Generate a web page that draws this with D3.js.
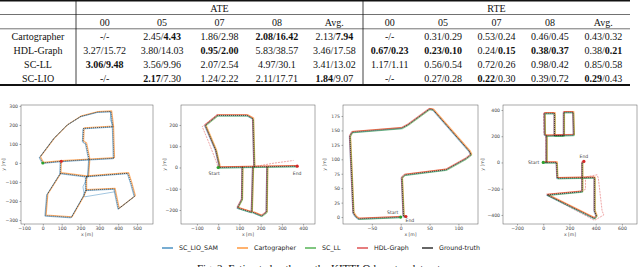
<!DOCTYPE html>
<html>
<head>
<meta charset="utf-8">
<script src="https://cdn.jsdelivr.net/npm/d3@7"></script>
<style>
body { margin: 0; background: #fff; }
svg { display: block; }
</style>
</head>
<body>
<svg id="fig" width="640" height="267"></svg>
<script>
// ---- table data ----
var methods = ["Cartographer", "HDL-Graph", "SC-LL", "SC-LIO"];
var sequences = ["00", "05", "07", "08", "Avg."];
// "**" marks bold parts
var ateValues = [
	["-/-", "2.45/**4.43**", "1.86/2.98", "**2.08/16.42**", "2.13/**7.94**"],
	["3.27/15.72", "3.80/14.03", "**0.95/2.00**", "5.83/38.57", "3.46/17.58"],
	["**3.06/9.48**", "3.56/9.96", "2.07/2.54", "4.97/30.1", "3.41/13.02"],
	["-/-", "**2.17**/7.30", "1.24/2.22", "2.11/17.71", "**1.84**/9.07"]
];
var rteValues = [
	["-/-", "0.31/0.29", "0.53/0.24", "0.46/0.45", "0.43/0.32"],
	["**0.67/0.23**", "**0.23/0.10**", "0.24/**0.15**", "**0.38/0.37**", "0.38/**0.21**"],
	["1.17/1.11", "0.56/0.54", "0.72/0.26", "0.98/0.42", "0.85/0.58"],
	["-/-", "0.27/0.28", "**0.22**/0.30", "0.39/0.72", "**0.29**/0.43"]
];

// ---- trajectory data (metres) ----
var seq00Truth = [
	[[0,0],[98,9],[246,18],[377,25]],
	[[0,0],[-16,30],[22,80],[59,129],[130,200],[202,245],[291,268],[362,271],[371,200],[372,191],[216,182],[213,113],[229,102],[246,18]],
	[[372,191],[377,25]],
	[[95,9],[93,-54],[229,-71],[452,-54],[470,-110],[488,-175],[402,-241],[380,-136],[229,-143]],
	[[246,18],[240,-70],[229,-75],[229,-143],[216,-175],[152,-286],[14,-277],[23,-166],[91,-59],[93,-54]]
];
var seq00LioSamDev = [
	[[240,-70],[213,-125],[222,-178],[380,-152]],
	[[362,271],[358,228],[372,196]]
];
var seq05Truth = [
	[[0,0],[372,6]],
	[[5,0],[5,11],[-11,81],[-61,198],[-3,245],[137,245],[164,230],[170,3]],
	[[114,3],[112,-150],[91,-190],[158,-211],[164,3]],
	[[164,-211],[205,-228],[228,-210],[231,3]]
];
var seq05HdlDev = [
	[[-3,250],[-75,192],[-45,120],[-10,30],[0,2]],
	[[170,4],[260,20],[355,33]]
];
var seq07Truth = [
	[[0,0],[-73,-3],[-78,1],[-82,7],[-88,140],[-84,147],[2,154],[13,160],[50,187],[56,186],[119,114],[122,108],[113,101],[79,82],[7,73],[2,68],[5,1],[9,1]]
];
var seq08Truth = [
	[[0,0],[102,0],[107,-120],[391,-115],[391,-370],[406,-408],[391,-426],[30,-247],[297,-222],[297,0],[310,8]],
	[[25,0],[25,204],[12,210],[10,375],[86,375],[86,204],[157,204],[157,383],[228,383],[233,209],[25,204]]
];
var seq08HdlDev = [
	[[30,-250],[391,-441],[462,-400],[449,-370],[420,-120],[411,-94],[322,-110],[322,-204],[300,-215]],
	[[20,0],[18,200],[5,215],[2,380]]
];
var startPoints = [[0,0],[0,0],[0,0],[0,0]];
var endPoints = [[98,9],[372,6],[9,1],[310,8]];

var seq00XTicks = [-100,0,100,200,300,400,500], seq00YTicks = [-300,-200,-100,0,100,200,300];
var seq05XTicks = [-100,0,100,200,300,400], seq05YTicks = [-200,-100,0,100,200];
var seq07XTicks = [-50,0,50,100], seq07YTicks = [0,25,50,75,100,125,150,175];
var seq08XTicks = [-200,0,200,400,600], seq08YTicks = [-400,-200,0,200,400];

var legendNames = ["SC_LIO_SAM", "Cartographer", "SC_LL", "HDL-Graph", "Ground-truth"];
var caption = "Fig. 2: Estimated paths on the KITTI Odometry dataset.";

// ---- styles ----
var colors = { lioSam: "#1f77b4", carto: "#ff7f0e", scll: "#2ca02c", hdl: "#d62728", truth: "#000" };
var legendColors = [colors.lioSam, colors.carto, colors.scll, colors.hdl, colors.truth];
// small pixel shifts so overlapping estimates stay visible under the truth line
var shifts = { lioSam: [-0.6, 0.5], carto: [0.7, -0.6], scll: [0.5, 0.7], hdl: [-0.5, -0.7] };

var svg = d3.select("#fig");
var serif = "'Liberation Serif', 'Times New Roman', serif";
var sans = "'DejaVu Sans', sans-serif";

// ================= TABLE =================
var tbl = svg.append("g").attr("font-family", serif).attr("font-size", 10).attr("fill", "#111");

var ateX = d3.scaleBand().domain(sequences).range([76, 363]);
var rteX = d3.scaleBand().domain(sequences).range([363, 630]);
var rowY = d3.scaleBand().domain(methods).range([29, 85]);

function richText(sel, str) {
	str.split("**").forEach(function(part, i) {
		if (part) sel.append("tspan").attr("font-weight", i % 2 ? "bold" : null).text(part);
	});
}

// rules
tbl.append("line").attr("x1", 0).attr("x2", 630).attr("y1", 0.8).attr("y2", 0.8).attr("stroke", "#111").attr("stroke-width", 1.6);
tbl.append("line").attr("x1", 0).attr("x2", 630).attr("y1", 14.5).attr("y2", 14.5).attr("stroke", "#111").attr("stroke-width", 0.6);
tbl.append("line").attr("x1", 0).attr("x2", 630).attr("y1", 28.8).attr("y2", 28.8).attr("stroke", "#111").attr("stroke-width", 0.6);
tbl.append("line").attr("x1", 0).attr("x2", 630).attr("y1", 85).attr("y2", 85).attr("stroke", "#111").attr("stroke-width", 1.8);
[76, 363].forEach(function(x) {
	tbl.append("line").attr("x1", x).attr("x2", x).attr("y1", 0).attr("y2", 85).attr("stroke", "#111").attr("stroke-width", 0.8);
});

tbl.append("text").attr("x", (ateX.range()[0] + ateX.range()[1]) / 2).attr("y", 12).attr("text-anchor", "middle").text("ATE");
tbl.append("text").attr("x", (rteX.range()[0] + rteX.range()[1]) / 2).attr("y", 12).attr("text-anchor", "middle").text("RTE");

[ateX, rteX].forEach(function(sc) {
	tbl.selectAll(null).data(sequences).enter().append("text")
		.attr("x", d => sc(d) + sc.bandwidth() / 2)
		.attr("y", 26)
		.attr("text-anchor", "middle")
		.text(d => d);
});

methods.forEach(function(m, i) {
	var y = rowY(m) + rowY.bandwidth() / 2 + 3.5;
	tbl.append("text").attr("x", 38).attr("y", y).attr("text-anchor", "middle").text(m);
	sequences.forEach(function(s, j) {
		richText(tbl.append("text").attr("x", ateX(s) + ateX.bandwidth() / 2).attr("y", y).attr("text-anchor", "middle"), ateValues[i][j]);
		richText(tbl.append("text").attr("x", rteX(s) + rteX.bandwidth() / 2).attr("y", y).attr("text-anchor", "middle"), rteValues[i][j]);
	});
});

// ================= PLOTS =================
var panels = [
	{ truth: seq00Truth, series: ["carto", "lioSam"], dev: [[seq00LioSamDev, "lioSam"]],
	  left: 21, right: 153, xDom: [-116, 585], yDom: [-321, 305], xTicks: seq00XTicks, yTicks: seq00YTicks, ylabX: 5,
	  startLab: null, endLab: null },
	{ truth: seq05Truth, series: ["carto", "lioSam", "scll", "hdl"], dev: [[seq05HdlDev, "hdl"]],
	  left: 181, right: 315, xDom: [-175, 456], yDom: [-266, 294], xTicks: seq05XTicks, yTicks: seq05YTicks, ylabX: 166,
	  startLab: [-4, 8, "middle"], endLab: [0, 9, "middle"] },
	{ truth: seq07Truth, series: ["carto", "lioSam", "scll", "hdl"], dev: [],
	  left: 343, right: 478, xDom: [-100, 134], yDom: [-12, 194], xTicks: seq07XTicks, yTicks: seq07YTicks, ylabX: 326,
	  startLab: [-8, -3, "middle"], endLab: [4, 6, "middle"] },
	{ truth: seq08Truth, series: ["carto", "lioSam", "scll", "hdl"], dev: [[seq08HdlDev, "hdl"]],
	  left: 503, right: 637, xDom: [-307, 715], yDom: [-469, 438], xTicks: seq08XTicks, yTicks: seq08YTicks, ylabX: 484,
	  startLab: [-4, 2, "end"], endLab: [0, -3, "middle"] }
];
var plotTop = 105, plotBottom = 224;

panels.forEach(function(p, k) {
	var g = svg.append("g").attr("font-family", sans);
	var x = d3.scaleLinear().domain(p.xDom).range([p.left, p.right]);
	var y = d3.scaleLinear().domain(p.yDom).range([plotBottom, plotTop]);
	var line = d3.line().x(d => x(d[0])).y(d => y(d[1]));

	var clipId = "clip" + k;
	g.append("clipPath").attr("id", clipId).append("rect")
		.attr("x", p.left).attr("y", plotTop).attr("width", p.right - p.left).attr("height", plotBottom - plotTop);
	var plot = g.append("g").attr("clip-path", "url(#" + clipId + ")");

	// deviating estimates
	p.dev.forEach(function(dv) {
		plot.selectAll(null).data(dv[0]).enter().append("path")
			.attr("d", line).attr("fill", "none")
			.attr("stroke", colors[dv[1]]).attr("stroke-width", 0.7).attr("stroke-opacity", 0.6)
			.attr("stroke-dasharray", dv[1] == "hdl" ? "2,1" : null);
	});
	// estimates that follow the ground truth
	p.series.forEach(function(s) {
		plot.append("g").attr("transform", "translate(" + shifts[s][0] + "," + shifts[s][1] + ")")
			.selectAll("path").data(p.truth).enter().append("path")
			.attr("d", line).attr("fill", "none")
			.attr("stroke", colors[s]).attr("stroke-width", s == "carto" ? 1.1 : 0.7)
			.attr("stroke-opacity", s == "carto" ? 0.6 : 0.7)
			.attr("stroke-linejoin", "round");
	});
	// ground truth
	plot.selectAll(null).data(p.truth).enter().append("path")
		.attr("d", line).attr("fill", "none")
		.attr("stroke", colors.truth).attr("stroke-width", 0.7).attr("stroke-opacity", 0.85)
		.attr("stroke-dasharray", "1,1");

	// start / end
	var sp = startPoints[k], ep = endPoints[k];
	g.append("circle").attr("cx", x(sp[0])).attr("cy", y(sp[1])).attr("r", 1.6).attr("fill", colors.scll);
	g.append("circle").attr("cx", x(ep[0])).attr("cy", y(ep[1])).attr("r", 1.6).attr("fill", colors.hdl);
	if (p.startLab) g.append("text").attr("x", x(sp[0]) + p.startLab[0]).attr("y", y(sp[1]) + p.startLab[1])
		.attr("text-anchor", p.startLab[2]).attr("font-size", 4.6).attr("fill", "#444").text("Start");
	if (p.endLab) g.append("text").attr("x", x(ep[0]) + p.endLab[0]).attr("y", y(ep[1]) + p.endLab[1])
		.attr("text-anchor", p.endLab[2]).attr("font-size", 4.6).attr("fill", "#444").text("End");

	// axes
	var xa = g.append("g").attr("transform", "translate(0," + plotBottom + ")")
		.call(d3.axisBottom(x).tickValues(p.xTicks).tickSize(1.5).tickPadding(1));
	var ya = g.append("g").attr("transform", "translate(" + p.left + ",0)")
		.call(d3.axisLeft(y).tickValues(p.yTicks).tickSize(1.5).tickPadding(1.5));
	[xa, ya].forEach(function(a) {
		a.selectAll("text").attr("font-size", 4.6).attr("fill", "#444").attr("font-family", sans);
		a.selectAll("line").attr("stroke", "#555").attr("stroke-width", 0.5);
		a.select(".domain").remove();
	});
	g.append("rect").attr("x", p.left).attr("y", plotTop).attr("width", p.right - p.left).attr("height", plotBottom - plotTop)
		.attr("fill", "none").attr("stroke", "#555").attr("stroke-width", 0.5);

	g.append("text").attr("x", (p.left + p.right) / 2).attr("y", 235.5).attr("text-anchor", "middle")
		.attr("font-size", 4.6).attr("fill", "#444").text("x [m]");
	g.append("text").attr("transform", "translate(" + p.ylabX + "," + ((plotTop + plotBottom) / 2) + ") rotate(-90)")
		.attr("text-anchor", "middle").attr("font-size", 4.6).attr("fill", "#444").text("y [m]");
});

// ================= LEGEND =================
var legendX = [162, 237, 305, 357, 422];
var lg = svg.append("g").attr("font-family", sans).attr("font-size", 6.3).attr("fill", "#222");
legendNames.forEach(function(n, i) {
	lg.append("line").attr("x1", legendX[i]).attr("x2", legendX[i] + 11).attr("y1", 248).attr("y2", 248)
		.attr("stroke", legendColors[i]).attr("stroke-width", 1.2);
	lg.append("text").attr("x", legendX[i] + 17).attr("y", 250.3).text(n);
});

// ================= CAPTION =================
svg.append("text").attr("x", 320).attr("y", 271.5).attr("text-anchor", "middle")
	.attr("font-family", serif).attr("font-size", 11).attr("fill", "#111").text(caption);
</script>
</body>
</html>
